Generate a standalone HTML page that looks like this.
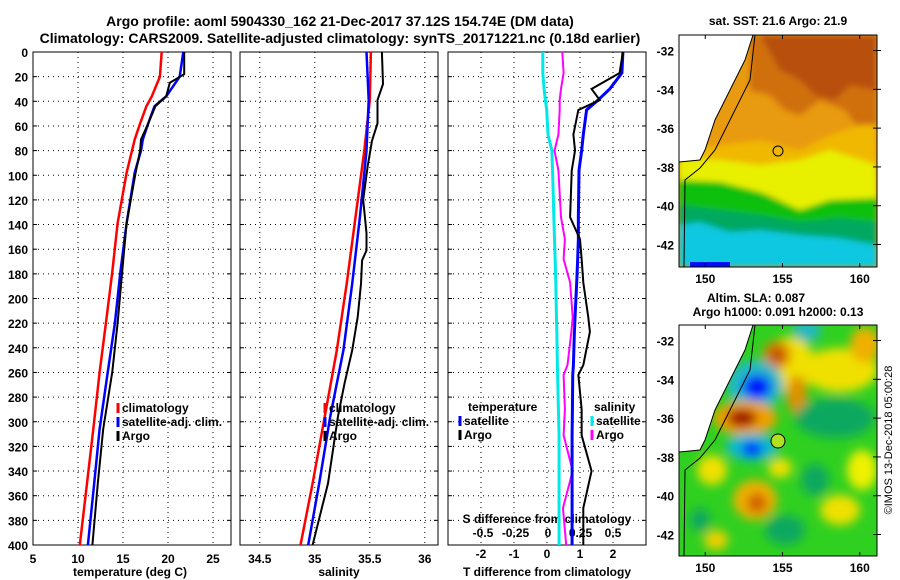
<!DOCTYPE html>
<html><head><meta charset="utf-8"><style>
body{margin:0;background:#fff}
svg{display:block;font-family:"Liberation Sans",sans-serif;font-weight:bold}
</style></head><body>
<svg id="fig" width="900" height="580" viewBox="0 0 900 580">
<defs><filter id="bl" x="-50%" y="-50%" width="200%" height="200%"><feGaussianBlur stdDeviation="5"/></filter>
<filter id="bl2" x="-50%" y="-50%" width="200%" height="200%"><feGaussianBlur stdDeviation="3"/></filter>
<clipPath id="c1"><rect x="33" y="52" width="198" height="493"/></clipPath>
<clipPath id="c2"><rect x="240" y="52" width="198" height="493"/></clipPath>
<clipPath id="c3"><rect x="448" y="52" width="198" height="493"/></clipPath>
<clipPath id="m1"><rect x="679" y="35" width="198" height="232"/></clipPath>
<clipPath id="m2"><rect x="679" y="325" width="198" height="231"/></clipPath></defs>
<text x="340" y="26" font-size="14" text-anchor="middle">Argo profile: aoml 5904330_162 21-Dec-2017 37.12S 154.74E (DM data)</text>
<text x="340" y="43" font-size="14" text-anchor="middle">Climatology: CARS2009. Satellite-adjusted climatology: synTS_20171221.nc (0.18d earlier)</text>
<g id="g"></g>
<!-- SST map -->
<g clip-path="url(#m1)">
<rect x="679" y="35" width="198" height="232" fill="#e89a10"/>
<g filter="url(#bl2)">
<path d="M750 35 L877 35 L877 140 L860 130 L845 110 L820 100 L800 115 L785 110 L770 95 L750 90 Z" fill="#d07010"/>
<path d="M760 35 L877 35 L877 90 L850 85 L835 100 L815 95 L800 80 L780 70 Z" fill="#b85008"/>
<path d="M679 150 L720 145 L760 140 L800 150 L830 135 L860 125 L877 125 L877 205 L840 210 L800 215 L760 190 L679 175 Z" fill="#f0b800"/>
<path d="M679 158 L720 160 L760 165 L800 160 L830 150 L877 165 L877 200 L840 205 L805 215 L770 195 L720 185 L679 180 Z" fill="#e8f000"/>
<path d="M679 180 L720 182 L760 192 L800 210 L830 200 L877 198 L877 267 L679 267 Z" fill="#10c010"/>
<path d="M679 205 L720 210 L760 215 L800 222 L840 218 L877 222 L877 267 L679 267 Z" fill="#00a860"/>
<path d="M679 225 L700 222 L730 232 L760 230 L800 235 L840 238 L877 245 L877 267 L679 267 Z" fill="#10c8e0"/>
</g>
<rect x="690" y="262" width="40" height="5" fill="#0010f0"/>
<path d="M679 35 L753 35 L745 60 L730 90 L715 120 L705 150 L700 160 L679 162 Z" fill="#fff"/>
<path d="M753 35 L745 60 L730 90 L715 120 L705 150 L700 160 L679 162" fill="none" stroke="#000"/>
<path d="M755 35 L750 80 L735 110 L715 150 L700 168 L685 180 L684 267" fill="none" stroke="#000"/>
<circle cx="778" cy="151" r="5" fill="none" stroke="#000"/>
</g>
<rect x="679" y="35" width="198" height="232" fill="none" stroke="#000"/>
<text x="778" y="25" font-size="12" text-anchor="middle">sat. SST: 21.6 Argo: 21.9</text>
<!-- SLA map -->
<g clip-path="url(#m2)">
<rect x="679" y="325" width="198" height="231" fill="#30d020"/>
<g filter="url(#bl)">
<ellipse cx="807" cy="330" rx="14" ry="12" fill="#20b8c0"/>
<ellipse cx="790" cy="365" rx="25" ry="28" fill="#f0e000"/>
<ellipse cx="777" cy="355" rx="14" ry="14" fill="#e08000"/>
<ellipse cx="777" cy="355" rx="6" ry="7" fill="#b04000"/>
<ellipse cx="840" cy="370" rx="38" ry="22" fill="#f0e000"/>
<ellipse cx="797" cy="395" rx="10" ry="20" fill="#e09000"/>
<ellipse cx="865" cy="345" rx="15" ry="18" fill="#f0b000"/>
<ellipse cx="755" cy="385" rx="28" ry="25" fill="#20b8c8"/>
<ellipse cx="757" cy="387" rx="14" ry="12" fill="#0010ff"/>
<ellipse cx="745" cy="418" rx="32" ry="17" fill="#f0a000"/>
<ellipse cx="742" cy="418" rx="15" ry="9" fill="#a00000"/>
<ellipse cx="752" cy="447" rx="26" ry="14" fill="#10b8d0"/>
<ellipse cx="752" cy="449" rx="10" ry="7" fill="#0010ff"/>
<ellipse cx="835" cy="418" rx="40" ry="20" fill="#10a860"/>
<ellipse cx="755" cy="500" rx="22" ry="20" fill="#f0b000"/>
<ellipse cx="757" cy="503" rx="10" ry="10" fill="#d06000"/>
<ellipse cx="712" cy="470" rx="15" ry="15" fill="#f0e000"/>
<ellipse cx="780" cy="468" rx="12" ry="10" fill="#f0e000"/>
<ellipse cx="840" cy="510" rx="20" ry="15" fill="#f0e000"/>
<ellipse cx="862" cy="470" rx="15" ry="20" fill="#f0f000"/>
<ellipse cx="716" cy="540" rx="12" ry="10" fill="#f0d000"/>
<ellipse cx="785" cy="530" rx="20" ry="15" fill="#10a860"/>
<ellipse cx="815" cy="480" rx="14" ry="16" fill="#10a860"/>
<ellipse cx="700" cy="520" rx="10" ry="12" fill="#10a860"/>
</g>
<path d="M679 325 L753 325 L745 350 L730 380 L715 410 L705 440 L700 450 L679 452 Z" fill="#fff"/>
<path d="M753 325 L745 350 L730 380 L715 410 L705 440 L700 450 L679 452" fill="none" stroke="#000"/>
<path d="M755 325 L750 370 L735 400 L715 440 L700 458 L685 470 L684 556" fill="none" stroke="#000"/>
<circle cx="778" cy="441" r="7" fill="#b0e020" stroke="#000"/>
</g>
<rect x="679" y="325" width="198" height="231" fill="none" stroke="#000"/>
<text x="756" y="302" font-size="12" text-anchor="middle">Altim. SLA: 0.087</text>
<text x="778" y="316" font-size="12" text-anchor="middle">Argo h1000: 0.091 h2000: 0.13</text>
<text transform="translate(892,440) rotate(-90)" font-size="11" font-weight="normal" text-anchor="middle">©IMOS 13-Dec-2018 05:00:28</text>
</svg>
<script>
const depths=[0,20,36,44,58,71,80,98,139,179,220,260,306,350,400];
const tClim=[19.3,19.1,18.2,17.6,16.9,16.3,16.0,15.4,14.4,13.8,13.1,12.4,11.7,11.0,10.2];
const tSat=[21.7,21.3,19.8,18.5,17.8,17.2,17.0,16.3,15.4,14.7,14.1,13.3,12.4,11.8,11.1];
const argoDepths=[0,18,25,36,44,58,71,80,98,139,179,220,260,306,350,400];
const tArgo=[21.8,21.8,20.2,19.8,18.6,17.8,17.0,16.9,16.4,15.4,14.9,14.4,13.8,12.8,12.2,11.6];
const salDepths=[0,39,80,134,188,242,296,350,400];
const sClim=[35.51,35.50,35.45,35.37,35.29,35.20,35.09,34.98,34.87];
const sSat=[35.47,35.49,35.47,35.41,35.34,35.26,35.14,35.04,34.94];
const sArgoDepths=[0,26,39,58,72,93,120,147,161,169,188,215,242,269,296,350,400];
const sArgo=[35.61,35.62,35.57,35.57,35.52,35.48,35.44,35.47,35.47,35.43,35.42,35.39,35.34,35.27,35.21,35.12,34.98];
const diffDepths=[0,17,30,39,47,67,80,96,134,152,168,187,215,227,254,262,290,311,340,370,400];
const dTSat=[2.3,2.27,1.9,1.55,1.2,1.1,1.05,0.97,0.95,0.95,0.93,0.9,0.85,0.83,0.8,0.78,0.77,0.76,0.76,0.76,0.76];
const dTArgo=[2.3,2.2,1.35,1.6,0.95,0.8,0.85,0.75,0.7,1.0,1.05,1.1,1.25,1.3,1.1,0.95,1.05,1.05,1.35,1.1,1.1];
const dSSat=[-0.04,-0.04,-0.03,-0.02,-0.01,0.0,0.03,0.035,0.045,0.05,0.055,0.06,0.065,0.068,0.072,0.074,0.08,0.085,0.085,0.085,0.085];
const dSArgo=[0.11,0.12,0.10,0.09,0.09,0.08,0.05,0.08,0.10,0.13,0.12,0.17,0.19,0.18,0.15,0.12,0.13,0.12,0.19,0.115,0.14];
const depthTicks=[0,20,40,60,80,100,120,140,160,180,200,220,240,260,280,300,320,340,360,380,400];
const tTicks=[5,10,15,20,25], sTicks=[34.5,35,35.5,36], dtTicks=[-2,-1,0,1,2], dsTicks=[-0.5,-0.25,0,0.25,0.5];
const NS='http://www.w3.org/2000/svg', g=document.getElementById('g');
const yD=d=>52+d*493/400;
const xT=v=>33+(v-5)*9, xS=v=>240+(v-34.32)*110, xDT=v=>547+v*33, xDS=v=>548+v*130;
function el(t,a,p){const e=document.createElementNS(NS,t);for(const k in a)e.setAttribute(k,a[k]);(p||g).appendChild(e);return e;}
function txt(x,y,s,anchor,size){const e=el('text',{x:x,y:y,'font-size':size||12,'text-anchor':anchor||'middle'});e.textContent=s;return e;}
function panel(x0,name,ticks,fx,lbls){
  const r=el('rect',{x:x0,y:52,width:198,height:493,fill:'none',stroke:'#000'});
  
  
  depthTicks.forEach(d=>{el('line',{x1:x0,x2:x0+198,y1:yD(d),y2:yD(d),stroke:'#000','stroke-dasharray':'1 4'});
    el('line',{x1:x0,x2:x0+4,y1:yD(d),y2:yD(d),stroke:'#000'});el('line',{x1:x0+194,x2:x0+198,y1:yD(d),y2:yD(d),stroke:'#000'});});
  ticks.forEach(v=>{const x=fx(v);el('line',{x1:x,x2:x,y1:52,y2:545,stroke:'#000','stroke-dasharray':'1 4'});
    if(lbls){const t=txt(x,563,String(v));}});
}
panel(33,'temperature-panel',tTicks,xT,true);
panel(240,'salinity-panel',sTicks,xS,true);
panel(448,'difference-panel',dtTicks,xDT,false);
dtTicks.forEach(v=>{const t=txt(xDT(v),558,String(v));});
dsTicks.forEach(v=>{const t=txt(xDS(v),537,String(v));});
depthTicks.forEach(d=>{const t=txt(28,yD(d)+5,String(d),'end');});
[[130,'temperature (deg C)','x-axis-title-temperature'],[339,'salinity','x-axis-title-salinity'],[547,'T difference from climatology','x-axis-title-t-diff']].forEach(a=>{const t=txt(a[0],576,a[1]);});
const st=txt(547,523,'S difference from climatology');


function line(ds,vs,fx,col,clip,name,w){
  const p=el('polyline',{points:vs.map((v,i)=>fx(v)+','+yD(ds[i])).join(' '),fill:'none',stroke:col,'stroke-width':w||2.5,'clip-path':'url(#'+clip+')'});
  
  
}
line(depths,tClim,xT,'#ff0000','c1','temp-climatology-line');
line(depths,tSat,xT,'#0000ff','c1','temp-satellite-line');
line(argoDepths,tArgo,xT,'#000','c1','temp-argo-line',2);
line(salDepths,sClim,xS,'#ff0000','c2','sal-climatology-line');
line(salDepths,sSat,xS,'#0000ff','c2','sal-satellite-line');
line(sArgoDepths,sArgo,xS,'#000','c2','sal-argo-line',2);
line(diffDepths,dSSat,xDS,'#00e8e8','c3','s-diff-satellite-line',3);
line(diffDepths,dSArgo,xDS,'#ff00ff','c3','s-diff-argo-line',2);
line(diffDepths,dTSat,xDT,'#0000ff','c3','t-diff-satellite-line',3);
line(diffDepths,dTArgo,xDT,'#000','c3','t-diff-argo-line',2);
function legend(x,y,items,name){items.forEach((it,i)=>{const yy=y+i*14;
  if(it[1]){const m=el('line',{x1:x,x2:x,y1:yy-9,y2:yy+1,stroke:it[1],'stroke-width':3});}
  const t=txt(x+4,yy,it[0],'start');});}
legend(118,412,[['climatology','#f00'],['satellite-adj. clim.','#00f'],['Argo','#000']],'temp-legend');
legend(325,412,[['climatology','#f00'],['satellite-adj. clim.','#00f'],['Argo','#000']],'sal-legend');
const h1=txt(468,411,'temperature','start');


legend(460,425,[['satellite','#00f'],['Argo','#000']],'diff-temp-legend');
const h2=txt(594,411,'salinity','start');


legend(592,425,[['satellite','#00e8e8'],['Argo','#f0f']],'diff-sal-legend');
function mapAxes(y0,y1,latTop){const ax=document.getElementById('fig');
  [150,155,160].forEach(l=>{const x=679+(l-148.3)*15.45;
    el('line',{x1:x,x2:x,y1:y0,y2:y0+4,stroke:'#000'},ax);el('line',{x1:x,x2:x,y1:y1-4,y2:y1,stroke:'#000'},ax);
    const t=el('text',{x:x,y:y1+16,'font-size':12,'text-anchor':'middle'},ax);t.textContent=l;});
  [-32,-34,-36,-38,-40,-42].forEach(l=>{const y=y0+(latTop-l)*19.4;
    el('line',{x1:873,x2:881,y1:y,y2:y,stroke:'#000'},ax);
    const t=el('text',{x:674,y:y+5,'font-size':12,'text-anchor':'end'},ax);t.textContent=l;});}
mapAxes(35,267,-31.2);mapAxes(325,556,-31.2);
</script>
</body></html>
